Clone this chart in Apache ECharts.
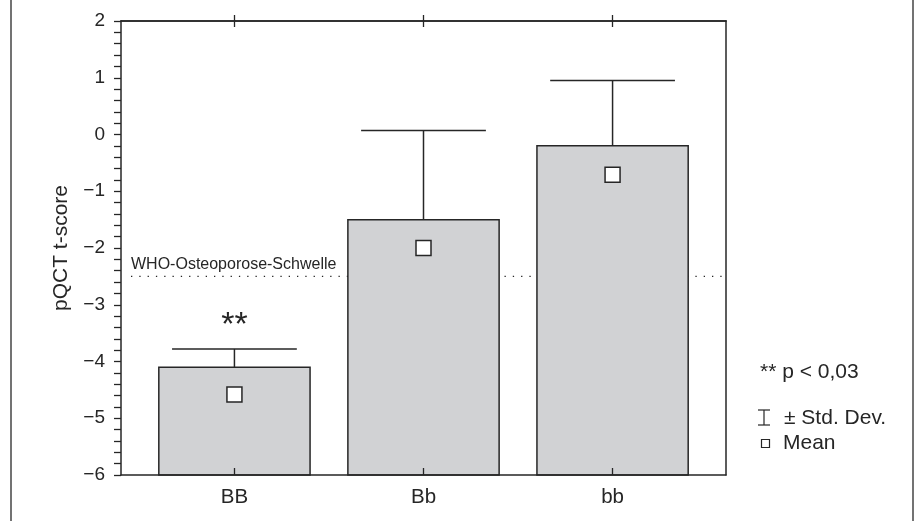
<!DOCTYPE html>
<html><head><meta charset="utf-8">
<script src="https://cdn.jsdelivr.net/npm/echarts@6/dist/echarts.min.js"></script>
<style>html,body{margin:0;padding:0;background:#fff}#c{width:920px;height:521px}</style>
</head><body><div id="c"></div>
<script>
// ---- data ----
const categories = ['BB', 'Bb', 'bb'];
const barValues = [-4.10, -1.50, -0.20];
const sdUpper = [-3.78, 0.07, 0.95];
const meanValues = [-4.58, -2.00, -0.71];
const significance = ['**', '', ''];
const threshold = -2.5;
const thresholdLabel = 'WHO-Osteoporose-Schwelle';
const yMin = -6, yMax = 2, yInterval = 1;
const yAxisTitle = 'pQCT t-score';
const legendP = '** p < 0,03';
const legendSD = '\u00b1 Std. Dev.';
const legendMean = 'Mean';

const FONT = '"Liberation Sans", Arial, Helvetica, sans-serif';
const INK = '#262626';
const positions = categories.map((c, i) => i + 1);

const chart = echarts.init(document.getElementById('c'), null, {renderer: 'canvas'});

const xBase = {
  type: 'value', min: 0.4, max: 3.6, z: 10,
  splitLine: {show: false},
  axisLine: {show: true, onZero: false, lineStyle: {color: INK, width: 1.5}},
};

chart.setOption({
  backgroundColor: '#fff',
  animation: false,
  textStyle: {fontFamily: FONT},
  grid: {left: 121, right: 194, top: 21, bottom: 46},
  xAxis: [
    Object.assign({}, xBase, {
      position: 'bottom',
      axisTick: {show: true, inside: true, length: 7, customValues: positions, lineStyle: {color: INK, width: 1.3}},
      axisLabel: {show: true, customValues: positions, formatter: v => categories[Math.round(v) - 1],
        fontSize: 20.5, color: INK, margin: 12, fontFamily: FONT}
    }),
    Object.assign({}, xBase, {
      position: 'top',
      axisTick: {show: true, inside: true, length: 6, customValues: positions, lineStyle: {color: INK, width: 1.3}},
      axisLabel: {show: false}
    }),
    Object.assign({}, xBase, {
      position: 'top',
      axisTick: {show: true, inside: false, length: 6, customValues: positions, lineStyle: {color: INK, width: 1.3}},
      axisLabel: {show: false}
    })
  ],
  yAxis: [
    {
      type: 'value', position: 'left', min: yMin, max: yMax, interval: yInterval,
      splitLine: {show: false},
      axisLine: {show: true, onZero: false, lineStyle: {color: INK, width: 1.5}},
      axisTick: {show: true, inside: false, length: 7, lineStyle: {color: INK, width: 1.3}},
      minorTick: {show: true, splitNumber: 5, length: 7, lineStyle: {color: INK, width: 1.3}},
      minorSplitLine: {show: false},
      axisLabel: {fontSize: 19, color: INK, margin: 16, fontFamily: FONT,
        formatter: v => String(v).replace('-', '\u2212')},
      name: yAxisTitle, nameLocation: 'middle', nameGap: 49, nameRotate: 90,
      nameTextStyle: {fontSize: 21, color: INK, fontFamily: FONT}
    },
    {
      type: 'value', position: 'right', min: yMin, max: yMax,
      splitLine: {show: false},
      axisLine: {show: true, onZero: false, lineStyle: {color: INK, width: 1.5}},
      axisTick: {show: false}, axisLabel: {show: false}
    }
  ],
  series: [
    {
      type: 'custom', z: 1, silent: true,
      data: [[threshold]],
      renderItem: (params, api) => {
        const cs = params.coordSys;
        const y = api.coord([1, api.value(0)])[1];
        return {
          type: 'group',
          children: [
            {type: 'line', shape: {x1: cs.x + 10, y1: y, x2: cs.x + cs.width, y2: y},
              style: {stroke: INK, lineWidth: 1.3, lineDash: [1.3, 7]}},
            {type: 'text', x: cs.x + 10, y: y - 4,
              style: {text: thresholdLabel, fill: INK, font: '16px ' + FONT, textAlign: 'left', textVerticalAlign: 'bottom'}}
          ]
        };
      }
    },
    {
      type: 'custom', z: 2,
      data: categories.map((c, i) => [positions[i], barValues[i]]),
      renderItem: (params, api) => {
        const x = api.value(0), v = api.value(1);
        const top = api.coord([x, v]);
        const base = api.coord([x, yMin]);
        const w = api.size([0.8, 0])[0];
        return {type: 'rect', shape: {x: top[0] - w / 2, y: top[1], width: w, height: base[1] - top[1]},
          style: {fill: '#d1d2d4', stroke: INK, lineWidth: 1.5}};
      }
    },
    {
      type: 'custom', z: 3,
      data: categories.map((c, i) => [positions[i], barValues[i], sdUpper[i], i]),
      renderItem: (params, api) => {
        const x = api.value(0);
        const p0 = api.coord([x, api.value(1)]);
        const p1 = api.coord([x, api.value(2)]);
        const cw = api.size([0.66, 0])[0];
        const children = [
          {type: 'line', shape: {x1: p0[0], y1: p0[1], x2: p1[0], y2: p1[1]}, style: {stroke: INK, lineWidth: 1.5}},
          {type: 'line', shape: {x1: p1[0] - cw / 2, y1: p1[1], x2: p1[0] + cw / 2, y2: p1[1]}, style: {stroke: INK, lineWidth: 1.5}}
        ];
        const s = significance[api.value(3)];
        if (s) {
          children.push({type: 'text', x: p1[0], y: p1[1] - 6,
            style: {text: s, fill: INK, font: '34px ' + FONT, textAlign: 'center', textVerticalAlign: 'bottom'}});
        }
        return {type: 'group', children};
      }
    },
    {
      type: 'scatter', z: 4,
      data: categories.map((c, i) => [positions[i], meanValues[i]]),
      symbol: 'rect', symbolSize: 15,
      itemStyle: {color: '#fff', borderColor: INK, borderWidth: 1.5, opacity: 1}
    }
  ],
  graphic: [
    {type: 'line', shape: {x1: 11, y1: 0, x2: 11, y2: 521}, style: {stroke: '#444', lineWidth: 1.5}},
    {type: 'line', shape: {x1: 913, y1: 0, x2: 913, y2: 521}, style: {stroke: '#444', lineWidth: 1.5}},
    {type: 'text', x: 760, y: 372, style: {text: legendP, fill: INK, font: '21px ' + FONT, textVerticalAlign: 'middle'}},
    {type: 'group', x: 758, y: 410, children: [
      {type: 'line', shape: {x1: 0, y1: 0, x2: 12, y2: 0}, style: {stroke: INK, lineWidth: 1.2}},
      {type: 'line', shape: {x1: 6, y1: 0, x2: 6, y2: 15}, style: {stroke: INK, lineWidth: 1.2}},
      {type: 'line', shape: {x1: 0, y1: 15, x2: 12, y2: 15}, style: {stroke: INK, lineWidth: 1.2}}
    ]},
    {type: 'text', x: 784, y: 418, style: {text: legendSD, fill: INK, font: '21px ' + FONT, textVerticalAlign: 'middle'}},
    {type: 'rect', shape: {x: 761.5, y: 439.5, width: 8, height: 8}, style: {fill: '#fff', stroke: INK, lineWidth: 1.2}},
    {type: 'text', x: 783, y: 443, style: {text: legendMean, fill: INK, font: '21px ' + FONT, textVerticalAlign: 'middle'}}
  ]
});
</script>
</body></html>
